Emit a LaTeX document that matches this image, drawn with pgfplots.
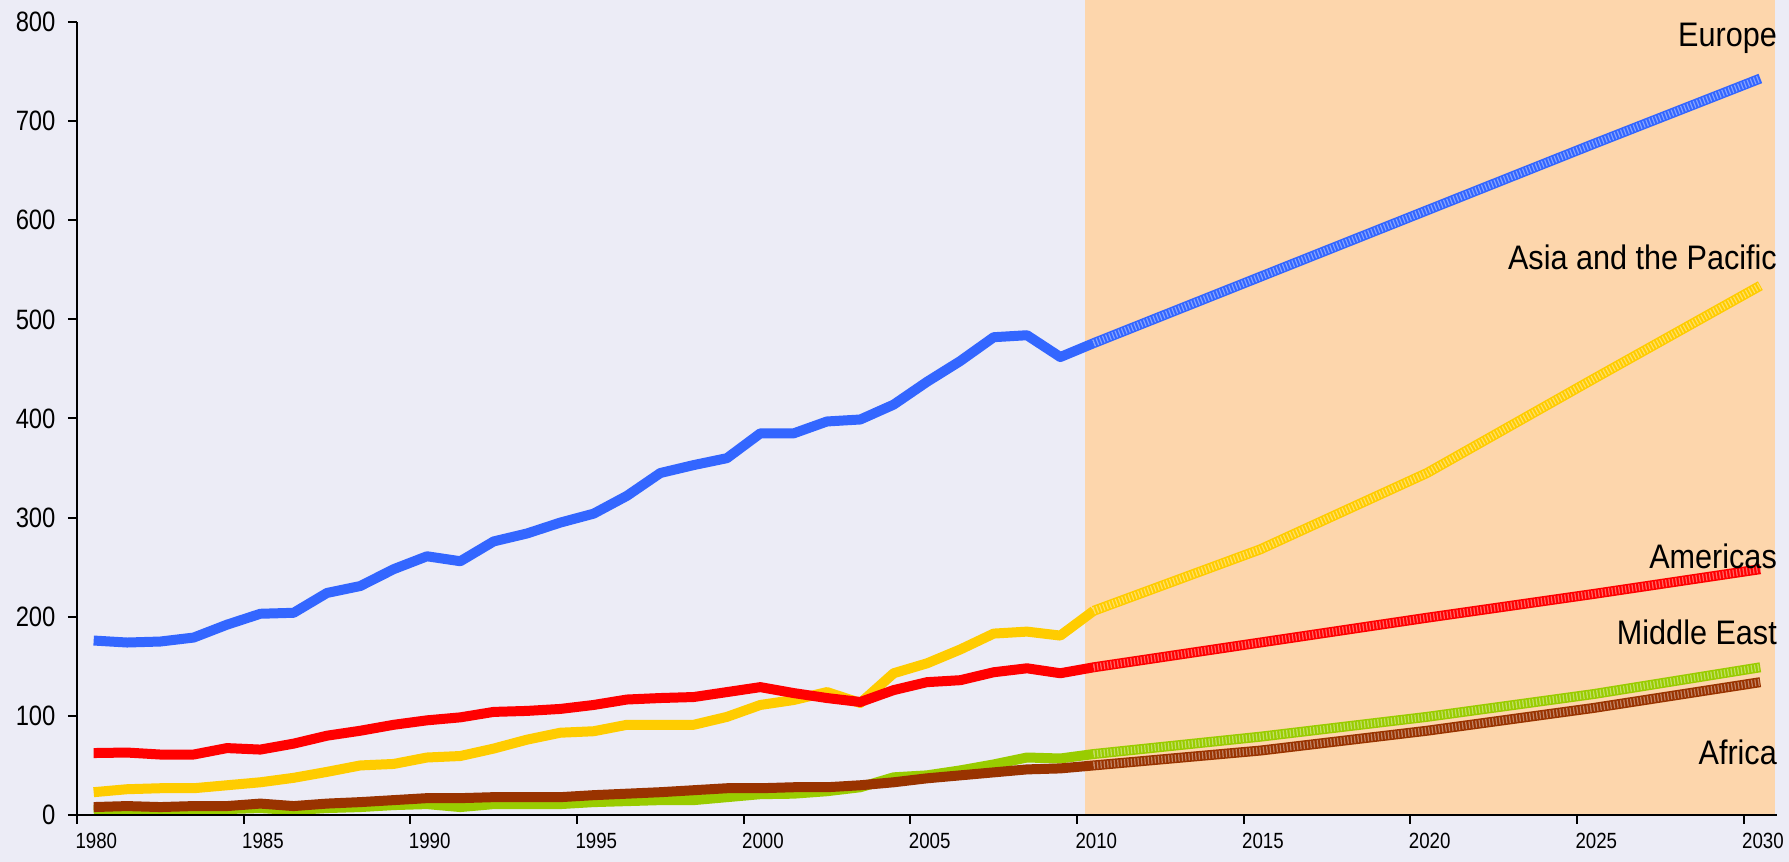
\documentclass[border=0pt]{standalone}
\usepackage{pgfplots}
\pgfplotsset{compat=1.18}
\usepackage{pgfplotstable}
\usepackage{fontspec}
\setmainfont{Liberation Sans}[FakeStretch=0.85]
\newfontfamily\labelfont{Liberation Sans}[FakeStretch=0.9]
\definecolor{lav}{HTML}{ECECF6}
\definecolor{proj}{HTML}{FDD6AC}
\definecolor{ceu}{HTML}{3366FF}
\definecolor{cas}{HTML}{FFCC00}
\definecolor{cam}{HTML}{FF0000}
\definecolor{cme}{HTML}{99CC00}
\definecolor{caf}{HTML}{993300}

\pgfplotstableread{
year eu asia am me af
1980 176 23 62.5 5 8
1981 174 26 63 6 9
1982 175 27 61 5 8
1983 179 27 61 6 9
1984 192 30 67.5 6 9
1985 203 33 66 7 11.5
1986 204 37.5 72 5 9
1987 224 43.5 80 7 11.5
1988 231 50 85 8 13
1989 248 51.5 91 10 15
1990 261 58 95.5 11 17
1991 256 59.5 98.5 8 17
1992 276 67 104 11 18
1993 284 76 105 11 18
1994 295 83 107 11 18
1995 304 84.5 111 13 20
1996 322 91 116.5 14 21.5
1997 345 91 118 15 23
1998 353 91 119 15 25
1999 360 99 124 18 27
2000 385 111 129 21 27
2001 385 116 123 21.5 28
2002 397 124 118 24 28
2003 399 113 114 28 30
2004 414 143 126 38 33
2005 437 153 134 40 37
2006 458 167 136 45 40
2007 482 183 144 51 43
2008 484 185 148 58 46
2009 462 181 143 57 47
2010 476 206 149 61.5 50
}\hist

\pgfplotstableread{
year eu asia am me af
2010 476 206 149 61.5 50
2015 543 268 174 79 65
2020 610 345 199 99 85
2025 677 440 223 122 108
2030 743 534 248 149 134
}\proj

\pgfplotsset{
  solidline/.style={line width=10pt, line join=round, line cap=butt},
  projbase/.style={line width=10pt, line join=round, line cap=butt},
  projtex/.style={white, opacity=0.4, line width=7pt, line join=round, dash pattern=on 1.2pt off 2.2pt},
}

\begin{document}
\begin{tikzpicture}[x=1pt,y=1pt]
\path[use as bounding box, fill=lav] (0,0) rectangle (1789,862);
\begin{axis}[
  at={(77pt,47pt)}, anchor=south west,
  scale only axis, width=1700pt, height=793pt,
  xmin=1980, xmax=2031, ymin=0, ymax=800,
  axis lines=left,
  axis line style={-, line width=2pt, black},
  axis on top=true,
  clip=false,
  xtick={1980,1985,...,2030},
  ytick={0,100,...,800},
  tick align=outside,
  major tick length=9pt,
  tick style={line width=2pt, black},
  /pgf/number format/.cd, 1000 sep={}, assume math mode=true,
  /pgfplots/.cd,
  xticklabel style={font=\fontsize{22}{24}\selectfont, anchor=north west, xshift=-5pt, yshift=-6pt},
  yticklabel style={font=\fontsize{28}{30}\selectfont, anchor=east, xshift=-9pt},
]
\fill[proj] (axis cs:2010.25,0) rectangle (axis cs:2030.95,823);

\addplot[cas, solidline] table[x expr=\thisrow{year}+0.5, y=asia] {\hist};
\addplot[cam, solidline] table[x expr=\thisrow{year}+0.5, y=am] {\hist};
\addplot[cme, solidline] table[x expr=\thisrow{year}+0.5, y=me] {\hist};
\addplot[caf, solidline] table[x expr=\thisrow{year}+0.5, y=af] {\hist};
\addplot[ceu, solidline] table[x expr=\thisrow{year}+0.5, y=eu] {\hist};

\addplot[cas, projbase] table[x expr=\thisrow{year}+0.5, y=asia] {\proj};
\addplot[projtex] table[x expr=\thisrow{year}+0.5, y=asia] {\proj};
\addplot[cam, projbase] table[x expr=\thisrow{year}+0.5, y=am] {\proj};
\addplot[projtex] table[x expr=\thisrow{year}+0.5, y=am] {\proj};
\addplot[cme, projbase] table[x expr=\thisrow{year}+0.5, y=me] {\proj};
\addplot[projtex] table[x expr=\thisrow{year}+0.5, y=me] {\proj};
\addplot[caf, projbase] table[x expr=\thisrow{year}+0.5, y=af] {\proj};
\addplot[projtex] table[x expr=\thisrow{year}+0.5, y=af] {\proj};
\addplot[ceu, projbase] table[x expr=\thisrow{year}+0.5, y=eu] {\proj};
\addplot[projtex] table[x expr=\thisrow{year}+0.5, y=eu] {\proj};
\end{axis}
\begin{scope}[every node/.style={anchor=base east, inner sep=0pt, font=\labelfont\fontsize{34}{36}\selectfont}]
\node at (1777,815) {Europe};
\node at (1777,592) {Asia and the Pacific};
\node at (1777,293) {Americas};
\node at (1777,217) {Middle East};
\node at (1777,97) {Africa};
\end{scope}
\end{tikzpicture}
\end{document}
